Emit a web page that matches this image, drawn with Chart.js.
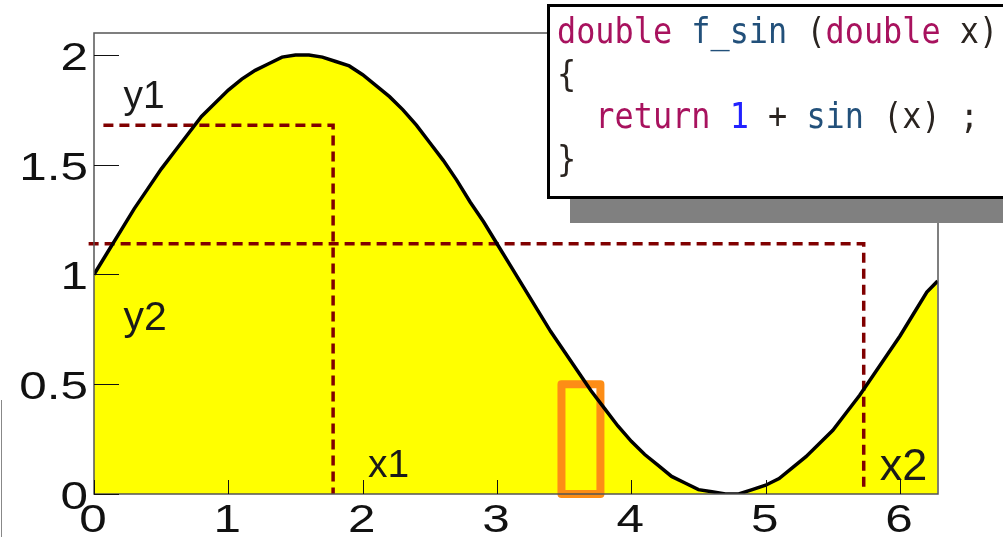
<!DOCTYPE html>
<html>
<head>
<meta charset="utf-8">
<script src="https://cdn.jsdelivr.net/npm/chart.js@4.4.1/dist/chart.umd.min.js"></script>
<style>
  body { margin: 0; background: #fff; overflow: hidden; }
  #wrap { position: relative; width: 1003px; height: 537px; overflow: hidden; }
  #plot { position: absolute; left: 0; top: 0; }
  #edge { position: absolute; left: 1px; top: 400px; width: 1px; height: 137px; background: #888; }
  #code {
    position: absolute; left: 547px; top: 4px; width: 470px; height: 186px;
    margin: 0; padding: 3px 0 0 7px;
    border: 3px solid #000; background: #fff;
    box-shadow: 23px 24px 0 #808080;
    font: 36px "DejaVu Sans Mono", monospace; line-height: 42.5px; color: #2a2420;
  }
  #code span.src { display: inline-block; transform: scaleX(0.885); transform-origin: 0 0; white-space: pre; }
  .kw { color: #a8125e; }
  .fn { color: #22507a; }
  .num { color: #2222ff; }
</style>
</head>
<body>
<div id="wrap">
  <canvas id="plot" width="1003" height="537"></canvas>
  <div id="edge"></div>
<pre id="code"><span class="src"><span class="kw">double</span> <span class="fn">f_sin</span> (<span class="kw">double</span> x)
{
  <span class="kw">return</span> <span class="num">1</span> + <span class="fn">sin</span> (x) ;
}</span></pre>
</div>
<script>
// f_sin sampled along x
const xs = [0.0, 0.1, 0.2, 0.3, 0.4, 0.5, 0.6, 0.7, 0.8, 0.9,
            1.0, 1.1, 1.2, 1.3, 1.4, 1.5, 1.6, 1.7, 1.8, 1.9,
            2.0, 2.1, 2.2, 2.3, 2.4, 2.5, 2.6, 2.7, 2.8, 2.9,
            3.0, 3.1, 3.2, 3.3, 3.4, 3.5, 3.6, 3.7, 3.8, 3.9,
            4.0, 4.1, 4.2, 4.3, 4.4, 4.5, 4.6, 4.7, 4.8, 4.9,
            5.0, 5.1, 5.2, 5.3, 5.4, 5.5, 5.6, 5.7, 5.8, 5.9,
            6.0, 6.1, 6.2, 6.28];
const fsin = [1.00, 1.10, 1.20, 1.30, 1.39, 1.48, 1.56, 1.64, 1.72, 1.78,
              1.84, 1.89, 1.93, 1.96, 1.99, 2.00, 2.00, 1.99, 1.97, 1.95,
              1.91, 1.86, 1.81, 1.75, 1.68, 1.60, 1.52, 1.43, 1.33, 1.24,
              1.14, 1.04, 0.94, 0.84, 0.74, 0.65, 0.56, 0.47, 0.39, 0.31,
              0.24, 0.18, 0.13, 0.08, 0.05, 0.02, 0.01, 0.00, 0.00, 0.02,
              0.04, 0.07, 0.12, 0.17, 0.23, 0.29, 0.37, 0.45, 0.54, 0.63,
              0.72, 0.82, 0.92, 0.97];

// guide lines: (x1, y1) and (x2, y2), with where each dashed path starts and ends
const guideX = [1.78, 5.73];
const guideY = [1.68, 1.14];
const guideStart = [0.07, -0.04];
const guideEnd = [0, 0.03];

// highlighted slice
const sliceX = [3.48, 3.77];
const sliceY = [0, 0.5];

const xTicks = [0, 1, 2, 3, 4, 5, 6];
const yTicks = [0, 0.5, 1, 1.5, 2];
const yTickLabels = ['0', '0.5', '1', '1.5', '2'];

const notes = [
  { text: 'y1', x: 0.22, y: 1.76, size: 39 },
  { text: 'y2', x: 0.22, y: 0.745, size: 41 },
  { text: 'x1', x: 2.04, y: 0.077, size: 39 },
  { text: 'x2', x: 5.85, y: 0.064, size: 45 }
];

const curve = xs.map((x, i) => ({ x: x, y: fsin[i] }));

const guides = guideX.map((gx, i) => ({
  data: [
    { x: guideStart[i], y: guideY[i] },
    { x: gx, y: guideY[i] },
    { x: gx, y: guideEnd[i] }
  ],
  borderColor: '#800000',
  borderWidth: 3.5,
  borderDash: [10, 6],
  pointRadius: 0,
  fill: false,
  clip: false
}));

const slice = {
  data: [
    { x: sliceX[0], y: sliceY[0] },
    { x: sliceX[0], y: sliceY[1] },
    { x: sliceX[1], y: sliceY[1] },
    { x: sliceX[1], y: sliceY[0] },
    { x: sliceX[0], y: sliceY[0] }
  ],
  borderColor: '#fd8d16',
  borderWidth: 8,
  borderJoinStyle: 'round',
  borderCapStyle: 'round',
  pointRadius: 0,
  fill: false,
  clip: false
};

// frame, inward ticks, stretched tick labels and the x/y notes
const framePlugin = {
  id: 'frame',
  afterDatasetsDraw(chart) {
    const { ctx, chartArea: a, scales: { x, y } } = chart;
    ctx.save();
    ctx.strokeStyle = '#555';
    ctx.lineWidth = 1.5;
    ctx.strokeRect(a.left, a.top, a.right - a.left, a.bottom - a.top);

    ctx.strokeStyle = '#111';
    ctx.lineWidth = 1;
    ctx.beginPath();
    xTicks.forEach(v => {
      const px = Math.round(x.getPixelForValue(v)) + 0.5;
      ctx.moveTo(px, a.bottom);
      ctx.lineTo(px, a.bottom - 14);
    });
    yTicks.forEach(v => {
      const py = Math.round(y.getPixelForValue(v)) + 0.5;
      ctx.moveTo(a.left, py);
      ctx.lineTo(a.left + 25, py);
    });
    ctx.stroke();

    ctx.fillStyle = '#111';
    ctx.font = '38px "Liberation Sans", Arial, sans-serif';
    ctx.textBaseline = 'alphabetic';
    xTicks.forEach(v => {
      ctx.save();
      ctx.translate(x.getPixelForValue(v) - 1, a.bottom + 38);
      ctx.scale(1.3, 1);
      ctx.textAlign = 'center';
      ctx.fillText(String(v), 0, 0);
      ctx.restore();
    });
    yTicks.forEach((v, i) => {
      ctx.save();
      ctx.translate(a.left - 6, y.getPixelForValue(v) + 15);
      ctx.scale(1.3, 1);
      ctx.textAlign = 'right';
      ctx.fillText(yTickLabels[i], 0, 0);
      ctx.restore();
    });

    ctx.fillStyle = '#1a1a1a';
    ctx.textAlign = 'left';
    notes.forEach(n => {
      ctx.font = n.size + 'px "Liberation Sans", Arial, sans-serif';
      ctx.fillText(n.text, x.getPixelForValue(n.x), y.getPixelForValue(n.y));
    });
    ctx.restore();
  }
};

new Chart(document.getElementById('plot').getContext('2d'), {
  type: 'line',
  data: {
    datasets: [
      {
        data: curve,
        borderColor: '#000',
        borderWidth: 3.5,
        backgroundColor: '#ffff00',
        pointRadius: 0,
        tension: 0,
        fill: 'origin'
      },
      ...guides,
      slice
    ]
  },
  options: {
    responsive: false,
    animation: false,
    devicePixelRatio: 1,
    layout: { padding: { left: 94, right: 65, top: 33, bottom: 43 } },
    plugins: {
      legend: { display: false },
      tooltip: { enabled: false },
      filler: { drawTime: 'beforeDatasetsDraw' }
    },
    scales: {
      x: {
        type: 'linear', min: 0, max: 6.283,
        ticks: { display: false },
        grid: { display: false, drawTicks: false },
        border: { display: false }
      },
      y: {
        type: 'linear', min: 0, max: 2.1,
        ticks: { display: false },
        grid: { display: false, drawTicks: false },
        border: { display: false }
      }
    }
  },
  plugins: [framePlugin]
});
</script>
</body>
</html>
